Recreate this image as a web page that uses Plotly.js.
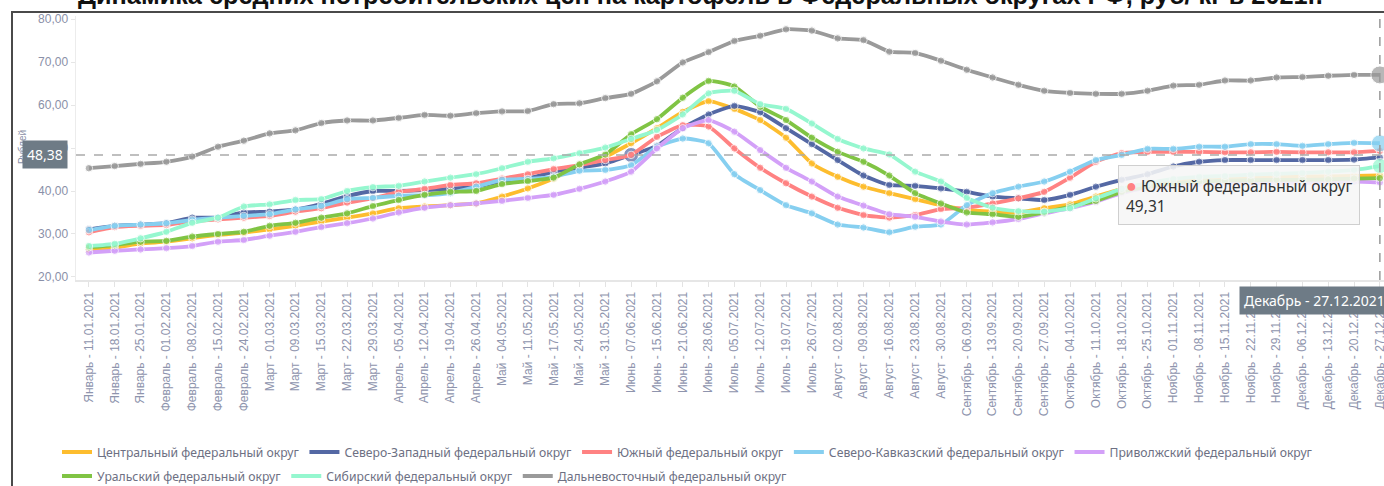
<!DOCTYPE html>
<html>
<head>
<meta charset="utf-8">
<script src="https://cdn.plot.ly/plotly-3.0.1.min.js"></script>
<style>
html,body{margin:0;padding:0;background:#fff;}
#chart{width:1384px;height:486px;}
</style>
</head>
<body>
<div id="chart"></div>
<script>
const categories = ["Январь - 11.01.2021","Январь - 18.01.2021","Январь - 25.01.2021","Февраль - 01.02.2021","Февраль - 08.02.2021","Февраль - 15.02.2021","Февраль - 24.02.2021","Март - 01.03.2021","Март - 09.03.2021","Март - 15.03.2021","Март - 22.03.2021","Март - 29.03.2021","Апрель - 05.04.2021","Апрель - 12.04.2021","Апрель - 19.04.2021","Апрель - 26.04.2021","Май - 04.05.2021","Май - 11.05.2021","Май - 17.05.2021","Май - 24.05.2021","Май - 31.05.2021","Июнь - 07.06.2021","Июнь - 15.06.2021","Июнь - 21.06.2021","Июнь - 28.06.2021","Июль - 05.07.2021","Июль - 12.07.2021","Июль - 19.07.2021","Июль - 26.07.2021","Август - 02.08.2021","Август - 09.08.2021","Август - 16.08.2021","Август - 23.08.2021","Август - 30.08.2021","Сентябрь - 06.09.2021","Сентябрь - 13.09.2021","Сентябрь - 20.09.2021","Сентябрь - 27.09.2021","Октябрь - 04.10.2021","Октябрь - 11.10.2021","Октябрь - 18.10.2021","Октябрь - 25.10.2021","Ноябрь - 01.11.2021","Ноябрь - 08.11.2021","Ноябрь - 15.11.2021","Ноябрь - 22.11.2021","Ноябрь - 29.11.2021","Декабрь - 06.12.2021","Декабрь - 13.12.2021","Декабрь - 20.12.2021","Декабрь - 27.12.2021"];

const central = [26.4,26.8,27.8,28.2,29.0,29.8,30.3,31.1,31.9,32.9,33.8,34.8,36.0,36.4,36.7,37.1,38.7,40.6,42.9,46.0,48.0,51.1,54.6,58.4,60.9,59.1,56.5,52.4,46.4,43.3,41.0,39.5,38.1,36.7,35.6,35.2,35.0,36.0,36.9,38.7,40.5,41.8,42.5,43.0,43.2,43.3,43.3,43.4,43.4,43.5,43.6];
const northWest = [31.1,31.9,32.2,32.5,33.8,33.8,35.0,35.2,35.7,37.0,38.8,40.0,40.0,40.2,40.5,41.0,42.3,42.9,44.5,45.4,46.4,48.38,50.5,54.7,57.8,59.8,58.3,54.6,50.9,47.2,43.6,41.4,41.2,40.6,39.8,38.7,38.3,37.9,39.1,41.0,42.6,43.9,45.7,46.8,47.2,47.2,47.2,47.2,47.2,47.3,47.8];
const south = [30.4,31.6,31.9,32.1,33.0,33.4,33.8,34.2,35.2,36.0,37.3,38.3,39.8,40.5,41.4,41.8,42.9,43.9,45.1,46.0,47.2,48.4,52.6,55.3,55.0,49.9,45.4,41.8,38.7,36.1,34.4,33.8,34.4,35.8,36.1,37.1,38.3,39.8,43.1,46.8,48.8,49.1,49.1,49.1,49.0,49.0,49.1,49.0,49.0,49.0,49.31];
const northCaucasus = [30.9,31.9,32.2,32.5,33.3,33.8,34.2,34.6,35.7,36.5,38.1,38.4,38.9,39.0,39.5,41.0,42.6,42.8,43.3,44.7,44.9,46.0,50.3,52.2,51.1,43.9,40.2,36.7,34.8,32.2,31.5,30.4,31.7,32.2,36.7,39.5,41.0,42.2,44.5,47.2,48.4,49.8,49.8,50.3,50.3,50.9,50.9,50.5,50.9,51.2,51.1];
const volga = [25.7,26.1,26.4,26.7,27.2,28.2,28.6,29.6,30.5,31.6,32.5,33.6,35.0,36.1,36.7,37.1,37.7,38.4,39.1,40.5,42.2,44.5,49.9,54.6,56.5,53.8,49.5,45.4,42.2,38.7,36.6,34.6,34.0,32.9,32.2,32.7,33.5,34.8,36.0,37.5,39.5,40.8,41.3,41.6,41.8,41.8,41.9,41.9,42.0,42.2,42.0];
const ural = [26.9,27.4,28.2,28.4,29.4,30.0,30.5,31.9,32.6,33.8,34.8,36.5,37.9,39.1,39.8,40.0,41.6,42.3,43.1,46.2,48.5,53.2,56.7,61.7,65.6,64.3,59.6,56.5,52.4,49.1,46.8,43.6,39.5,37.1,35.0,34.6,34.0,35.0,36.4,37.7,39.8,41.0,41.8,42.2,42.4,42.5,42.6,42.6,42.7,42.9,43.0];
const siberia = [27.2,27.7,29.0,30.5,32.6,33.8,36.4,36.9,37.9,38.1,40.0,40.9,41.2,42.2,43.1,43.9,45.3,46.8,47.6,48.8,50.1,52.1,54.2,57.8,62.7,63.3,60.2,59.1,55.7,52.1,49.9,48.5,44.5,42.2,38.4,36.1,35.3,35.2,36.0,38.3,40.5,41.8,42.8,43.3,43.5,43.8,44.0,44.2,44.5,44.9,45.8];
const farEast = [45.3,45.8,46.3,46.8,48.0,50.3,51.7,53.4,54.1,55.8,56.4,56.4,57.0,57.7,57.5,58.1,58.5,58.6,60.2,60.4,61.6,62.6,65.5,69.9,72.3,74.9,76.1,77.6,77.3,75.5,75.1,72.4,72.1,70.3,68.2,66.4,64.7,63.3,62.8,62.6,62.6,63.3,64.5,64.7,65.7,65.7,66.4,66.5,66.8,67.0,67.0];

const seriesNames = ["Центральный федеральный округ","Северо-Западный федеральный округ","Южный федеральный округ","Северо-Кавказский федеральный округ","Приволжский федеральный округ","Уральский федеральный округ","Сибирский федеральный округ","Дальневосточный федеральный округ"];
const seriesValues = [central, northWest, south, northCaucasus, volga, ural, siberia, farEast];
const seriesColors = ["#fdbd2e","#5468a4","#ff8282","#86cff0","#d3a0f8","#80c444","#95f7cf","#9a9a9a"];

const titleText = "Динамика средних потребительских цен на картофель в Федеральных округах РФ, руб/ кг в 2021г.";
const hoverValueY = 48.38;
const hoverValueText = "48,38";
const tooltipName = "Южный федеральный округ";
const tooltipValue = "49,31";
const yTitle = "Рублей";

const last = categories.length - 1;
// hover highlight states
const bigPoints = {1: [21], 3: [last], 6: [last], 7: [last]};
const bigSize = {1: 15, 3: 17, 6: 15, 7: 18};

const traces = [];
seriesValues.forEach((vals, k) => {
  const sizes = vals.map((v, i) => (bigPoints[k] && bigPoints[k].includes(i)) ? bigSize[k] : 7.5);
  traces.push({
    type: 'scatter',
    mode: 'lines',
    name: seriesNames[k],
    legend: k < 5 ? 'legend' : 'legend2',
    x: categories,
    y: vals,
    line: {color: seriesColors[k], width: 3.8, shape: 'spline', smoothing: 0.5},
    hoverinfo: 'skip'
  });
  traces.push({
    type: 'scatter',
    mode: 'markers',
    name: seriesNames[k],
    showlegend: false,
    x: categories,
    y: vals,
    marker: {color: seriesColors[k], size: sizes},
    hoverinfo: 'skip'
  });
});

const W = 1384, H = 486, L = 76, R = 0, T = 16, B = 206;
const pw = W - L - R, ph = H - T - B;
const px2x = p => (p - L) / pw;
const py2y = p => (H - B - p) / ph;

const legendFont = {size: 12.2, color: '#6d7083', family: 'Noto Sans, sans-serif'};

const layout = {
  width: W, height: H,
  margin: {l: L, r: R, t: T, b: B, autoexpand: false},
  paper_bgcolor: '#ffffff',
  plot_bgcolor: '#ffffff',
  separators: ', ',
  showlegend: true,
  hovermode: false,
  font: {family: 'Liberation Sans, Arial, sans-serif', color: '#8a90a8'},
  xaxis: {
    type: 'category',
    range: [-0.5, last + 0.16],
    automargin: false,
    showgrid: false,
    zeroline: false,
    showline: true,
    linecolor: '#e6e6e6',
    linewidth: 2,
    ticks: 'outside',
    ticklen: 5,
    tickcolor: '#e3e3e3',
    tickangle: -90,
    tickfont: {size: 12, color: '#8e94ad', family: 'Liberation Sans, Arial, sans-serif'}
  },
  yaxis: {
    range: [19.3, 80.7],
    automargin: false,
    tickvals: [20,30,40,50,60,70,80],
    tickformat: '.2f',
    showgrid: false,
    zeroline: false,
    showline: true,
    linecolor: '#ececec',
    linewidth: 1.5,
    ticks: 'outside',
    ticklen: 4,
    tickcolor: '#e6e6e6',
    tickfont: {size: 12, color: '#8a90a8', family: 'Liberation Sans, Arial, sans-serif'}
  },
  legend: {
    orientation: 'h',
    x: px2x(57), xanchor: 'left',
    y: py2y(452), yanchor: 'middle',
    font: legendFont,
    bgcolor: 'rgba(0,0,0,0)',
    itemwidth: 30
  },
  legend2: {
    orientation: 'h',
    x: px2x(57), xanchor: 'left',
    y: py2y(476), yanchor: 'middle',
    font: legendFont,
    bgcolor: 'rgba(0,0,0,0)',
    itemwidth: 30
  },
  shapes: [
    {type: 'line', xref: 'paper', yref: 'y', x0: 0, x1: 1, y0: hoverValueY, y1: hoverValueY,
     line: {color: '#aaaaaa', width: 1.5, dash: 'dash'}},
    {type: 'line', xref: 'x', yref: 'paper', x0: categories[last], x1: categories[last], y0: 0, y1: 1,
     line: {color: '#999999', width: 1.5, dash: 'dash'}},
    {type: 'rect', xref: 'paper', yref: 'paper', x0: px2x(12), x1: px2x(1400), y0: py2y(12), y1: py2y(520),
     line: {color: '#4a4a4a', width: 2}, fillcolor: 'rgba(0,0,0,0)', layer: 'below'}
  ],
  annotations: [
    {xref: 'paper', yref: 'paper', x: px2x(700), y: py2y(11), xanchor: 'center', yanchor: 'bottom',
     text: '<b>' + titleText + '</b>', showarrow: false,
     font: {size: 25.3, color: '#111111', family: 'Liberation Sans, Arial, sans-serif'}},
    {xref: 'paper', yref: 'paper', x: px2x(22), y: py2y(147), xanchor: 'center', yanchor: 'middle',
     text: yTitle, textangle: -90, showarrow: false,
     font: {size: 10, color: '#8a90a8'}},
    {xref: 'paper', yref: 'y', x: px2x(45), y: hoverValueY, xanchor: 'center', yanchor: 'middle',
     text: hoverValueText, showarrow: false, bgcolor: '#6e7b86', borderpad: 4,
     font: {size: 14, color: '#ffffff', family: 'Noto Sans, sans-serif'}},
    {xref: 'paper', yref: 'paper', x: px2x(1390), y: py2y(300), xanchor: 'right', yanchor: 'middle',
     text: categories[last], showarrow: false, bgcolor: '#6e7b86', borderpad: 4,
     font: {size: 14, color: '#ffffff', family: 'Noto Sans, sans-serif'}},
    {xref: 'paper', yref: 'paper', x: px2x(1118), y: py2y(195), xanchor: 'left', yanchor: 'middle',
     text: '<span style="color:' + seriesColors[2] + ';font-size:18px">●</span> ' + tooltipName + '<br>' + tooltipValue,
     align: 'left', showarrow: false, bgcolor: 'rgba(246,246,246,0.88)', bordercolor: '#cfcfcf',
     borderwidth: 1, borderpad: 7,
     font: {size: 15.5, color: '#333333', family: 'Noto Sans, sans-serif'}}
  ]
};

Plotly.newPlot('chart', traces, layout, {displayModeBar: false, staticPlot: true});
</script>
</body>
</html>
